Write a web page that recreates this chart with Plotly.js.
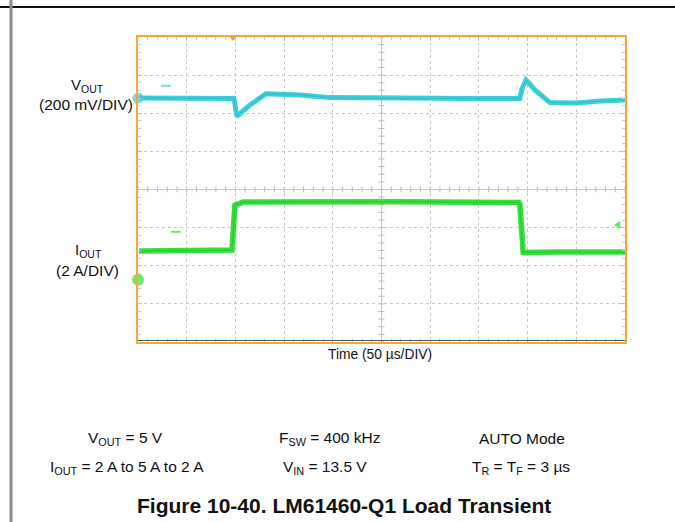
<!DOCTYPE html>
<html>
<head>
<meta charset="utf-8">
<script src="https://cdn.plot.ly/plotly-3.0.1.min.js"></script>
<style>
html,body{margin:0;padding:0;background:#fff;}
#chart{width:675px;height:522px;}
</style>
</head>
<body>
<div id="chart"></div>
<script>
// ---- Data (time in divisions of 50 µs, amplitude in screen divisions) ----
const voutTime = [0.02, 1.97, 2.03, 2.30, 2.63, 3.33, 3.94, 5.38, 6.82, 7.84, 7.89, 7.97, 8.15, 8.46, 9.01, 9.49, 10.0];
const voutDiv  = [6.40, 6.39, 5.92, 6.22, 6.51, 6.48, 6.41, 6.39, 6.39, 6.39, 6.66, 6.87, 6.61, 6.28, 6.27, 6.32, 6.35];

const ioutTime = [0.02, 1.93, 1.99, 2.16, 5.38, 7.82, 7.84, 7.91, 8.67, 10.0];
const ioutDiv  = [2.39, 2.41, 3.59, 3.67, 3.68, 3.66, 3.62, 2.35, 2.36, 2.36];

// channel / trigger indicators of the scope screen
const cyanMarkX = [0, 0.57];
const cyanMarkY = [6.40, 6.72];
const greenMarkX = [0, 0.78, 9.86];
const greenMarkY = [1.63, 2.89, 3.07];
const trigX = [1.95];
const trigY = [8];

const leftLabels = ['V<sub>OUT</sub>', '(200 mV/DIV)', 'I<sub>OUT</sub>', '(2 A/DIV)'];
const row1 = ['V<sub>OUT</sub> = 5 V', 'F<sub>SW</sub> = 400 kHz', 'AUTO Mode'];
const row2 = ['I<sub>OUT</sub> = 2 A to 5 A to 2 A', 'V<sub>IN</sub> = 13.5 V', 'T<sub>R</sub> = T<sub>F</sub> = 3 µs'];
const figTitle = '<b>Figure 10-40. LM61460-Q1 Load Transient</b>';
const xTitle = 'Time (50 µs/DIV)';

// ---- Layout geometry ----
const W = 675, H = 522;
const L = 138, R = 625, T = 37, B = 342;
const px = x => (x - L) / (R - L);
const py = y => (B - y) / (B - T);

const FONT = 'Liberation Sans, Arial, sans-serif';

const traces = [
  {x: voutTime, y: voutDiv, mode: 'lines', line: {color: '#3ccfd8', width: 5}, hoverinfo: 'skip'},
  {x: voutTime, y: voutDiv, mode: 'lines', line: {color: '#2bb3bd', width: 1}, opacity: 0.6, hoverinfo: 'skip'},
  {x: ioutTime, y: ioutDiv, mode: 'lines', line: {color: '#33e03a', width: 5.5}, hoverinfo: 'skip'},
  {x: ioutTime, y: ioutDiv, mode: 'lines', line: {color: '#22b82a', width: 1}, opacity: 0.6, hoverinfo: 'skip'},
  {x: cyanMarkX, y: cyanMarkY, mode: 'markers', cliponaxis: false,
   marker: {symbol: ['circle', 'line-ew'], size: [9, 7], color: '#3ccfd8', line: {color: '#3ccfd8', width: 2}}},
  {x: greenMarkX, y: greenMarkY, mode: 'markers', cliponaxis: false,
   marker: {symbol: ['circle', 'line-ew', 'triangle-left'], size: [10, 7, 5], color: '#33dd33', line: {color: '#33dd33', width: 2}}},
  {x: trigX, y: trigY, mode: 'markers', cliponaxis: false,
   marker: {symbol: 'triangle-down', size: 8, color: '#f0a030'}}
];

const shapes = [];
// center cross lines
shapes.push({type: 'line', xref: 'x', yref: 'y', x0: 5, x1: 5, y0: 0, y1: 8, line: {color: '#c4c4c4', width: 1}, layer: 'below'});
shapes.push({type: 'line', xref: 'x', yref: 'y', x0: 0, x1: 10, y0: 4, y1: 4, line: {color: '#c4c4c4', width: 1}, layer: 'below'});
for (let i = 0; i <= 50; i++) {
  shapes.push({type: 'line', xref: 'x', yref: 'y', ysizemode: 'pixel', yanchor: 4, y0: -3, y1: 3,
    x0: i * 0.2, x1: i * 0.2, line: {color: '#bdbdbd', width: 1}, layer: 'below'});
}
for (let j = 0; j <= 40; j++) {
  shapes.push({type: 'line', xref: 'x', yref: 'y', xsizemode: 'pixel', xanchor: 5, x0: -3, x1: 3,
    y0: j * 0.2, y1: j * 0.2, line: {color: '#bdbdbd', width: 1}, layer: 'below'});
}
// bottom dark edge of the screen
shapes.push({type: 'line', xref: 'paper', yref: 'paper', x0: 0, x1: 1, y0: py(340.5), y1: py(340.5), line: {color: '#4a5a58', width: 1}});
// page frame
shapes.push({type: 'line', xref: 'paper', yref: 'paper', x0: px(0), x1: px(W), y0: py(7), y1: py(7), line: {color: '#111', width: 2}});
shapes.push({type: 'line', xref: 'paper', yref: 'paper', x0: px(11), x1: px(11), y0: py(0), y1: py(H), line: {color: '#8a8a8a', width: 3}});

const ann = [];
const add = (text, x, y, size) => ann.push({
  text, xref: 'paper', yref: 'paper', x: px(x), y: py(y), xanchor: 'center', yanchor: 'middle',
  showarrow: false, font: {family: FONT, size, color: '#111'}});

add(leftLabels[0], 87, 85.5, 15);
add(leftLabels[1], 86, 104.5, 15.5);
add(leftLabels[2], 88, 250, 15);
add(leftLabels[3], 87, 270, 15.5);
add(xTitle, 380, 354, 13.8);

add(row1[0], 125, 438, 15.5);
add(row1[1], 329, 438, 15.5);
add(row1[2], 522, 438, 15.5);
add(row2[0], 127, 467, 15.5);
add(row2[1], 325, 467, 15.5);
add(row2[2], 520.5, 467, 15.5);
add(figTitle, 343.5, 505, 21);

const axisCommon = {
  showgrid: true, griddash: 'dot', gridcolor: '#c8c8c8', gridwidth: 1,
  zeroline: false, showticklabels: false, fixedrange: true,
  ticks: 'inside', ticklen: 4, tickcolor: '#c0c0c0', tickwidth: 1,
  showline: true, linecolor: '#f2a83c', linewidth: 2, mirror: 'allticks'
};

const layout = {
  width: W, height: H,
  margin: {l: L, r: W - R, t: T, b: H - B, pad: 0},
  paper_bgcolor: '#fff', plot_bgcolor: '#fff',
  showlegend: false,
  xaxis: Object.assign({}, axisCommon, {range: [0, 10], tick0: 0, dtick: 1,
    minor: {dtick: 0.2, ticks: 'inside', ticklen: 3, tickcolor: '#cccccc', showgrid: false}}),
  yaxis: Object.assign({}, axisCommon, {range: [0, 8], tick0: 0, dtick: 1,
    minor: {dtick: 0.2, ticks: 'inside', ticklen: 3, tickcolor: '#cccccc', showgrid: false}}),
  shapes: shapes,
  annotations: ann
};

Plotly.newPlot('chart', traces, layout, {staticPlot: true, displayModeBar: false});
</script>
</body>
</html>
